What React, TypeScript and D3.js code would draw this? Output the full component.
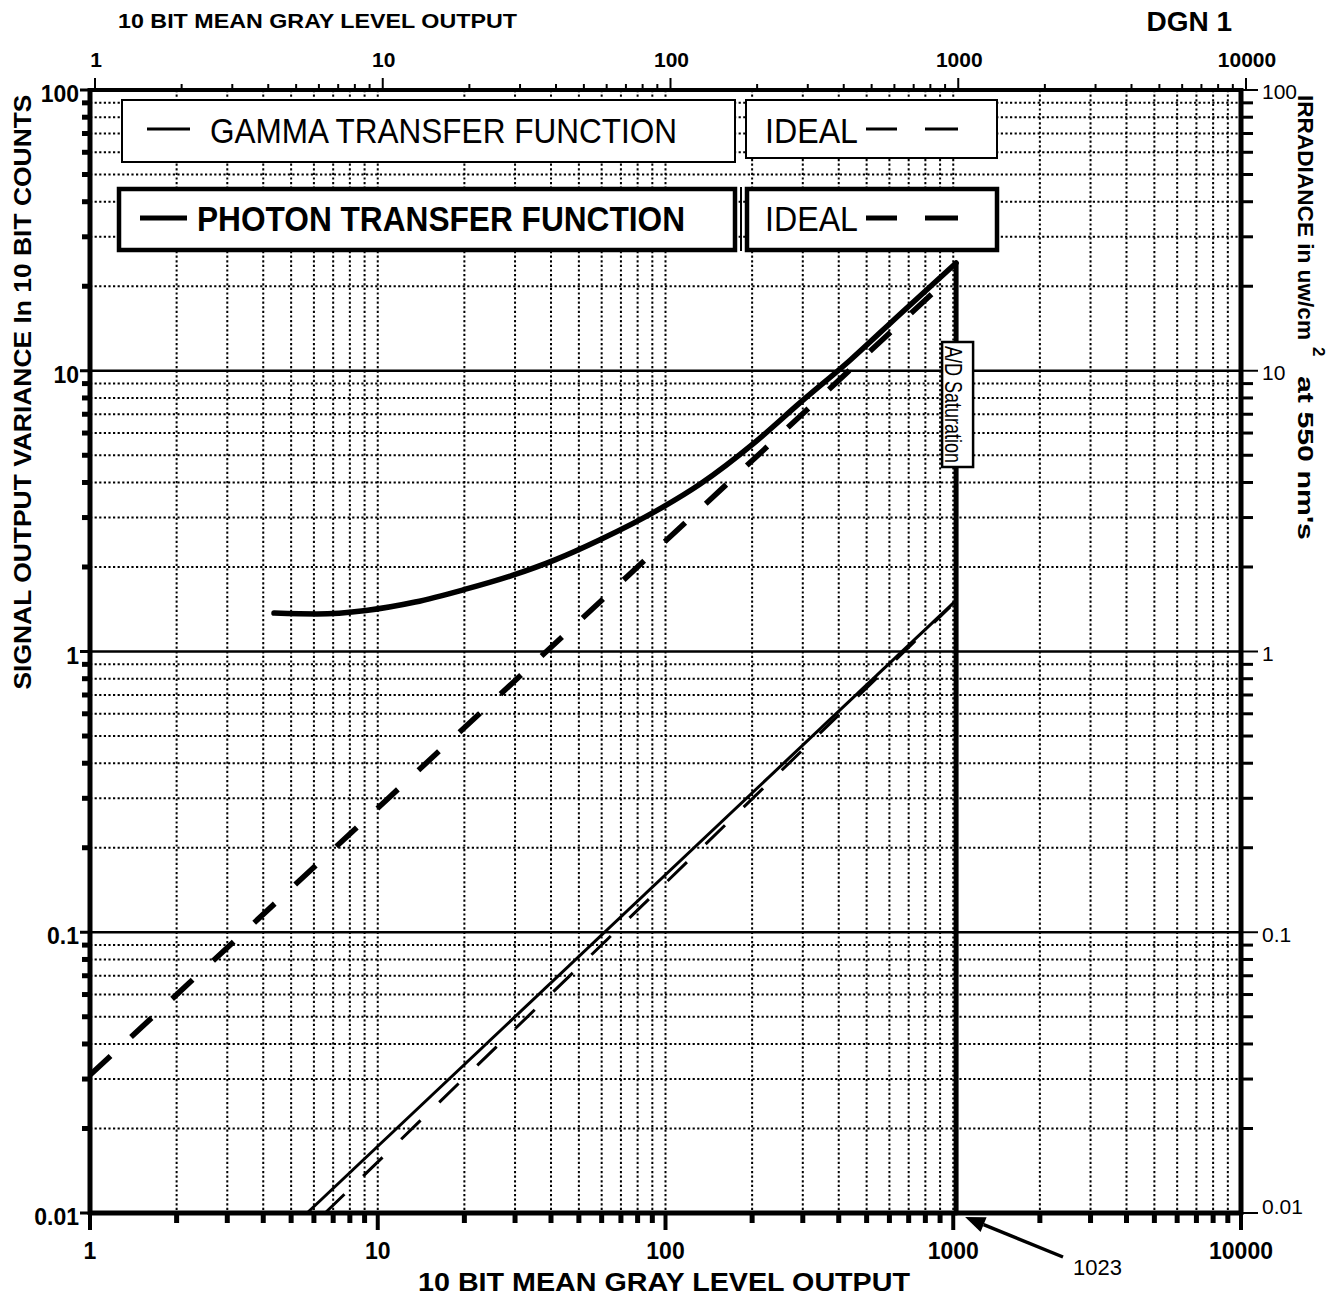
import * as d3 from "d3";

// axis labels
const X_MAJOR = [1, 10, 100, 1000, 10000];
const X_LABELS = ["1", "10", "100", "1000", "10000"];
const Y_MAJOR = [0.01, 0.1, 1, 10, 100];
const Y_LABELS = ["0.01", "0.1", "1", "10", "100"];

// photon transfer function (measured, thick solid)
const PTF_X = [4.36, 6.15, 9.1, 13.5, 19.9, 29.5, 41.3, 59.2, 96.5, 132, 205, 293, 438, 653, 1023];
const PTF_Y = [1.37, 1.36, 1.4, 1.5, 1.66, 1.87, 2.12, 2.5, 3.24, 3.95, 5.57, 7.68, 10.9, 15.9, 24.2];

// photon transfer ideal (thick dashed)
const PTF_IDEAL_X = [1, 900];
const PTF_IDEAL_Y = [0.031, 20];

// gamma transfer function (thin solid) and its ideal (thin dashed)
const GAMMA_X = [5.68, 1023];
const GAMMA_Y = [0.01, 1.52];
const GAMMA_IDEAL_X = [6.56, 975];
const GAMMA_IDEAL_Y = [0.01, 1.44];

// A/D saturation drop
const SATURATION_X = 1023;
const SATURATION_Y = [24.2, 0.01];

const LEGEND_GAMMA = "GAMMA TRANSFER FUNCTION";
const LEGEND_PHOTON = "PHOTON TRANSFER FUNCTION";
const LEGEND_IDEAL = "IDEAL";

const W = 1341;
const H = 1300;
const L = 90;
const R = 1241;
const T = 90;
const B = 1213;
const FONT = "'Liberation Sans', Arial, Helvetica, sans-serif";
const INK = "#000";

const zip = (xs: number[], ys: number[]) =>
  xs.map((v, i) => [v, ys[i]] as [number, number]);

const isMajor = (v: number) =>
  Math.abs(Math.log10(v) - Math.round(Math.log10(v))) < 1e-6;

export default function App() {
  const x = d3.scaleLog().domain([1, 10000]).range([L, R]);
  const y = d3.scaleLog().domain([0.01, 100]).range([B, T]);
  const xt = x.ticks();
  const yt = y.ticks();

  const straight = d3
    .line<[number, number]>()
    .x((d) => x(d[0]))
    .y((d) => y(d[1]));
  const smooth = d3
    .line<[number, number]>()
    .x((d) => x(d[0]))
    .y((d) => y(d[1]))
    .curve(d3.curveMonotoneX);

  const ptfPath = smooth(zip(PTF_X, PTF_Y)) ?? "";
  const satPath = straight(SATURATION_Y.map((v) => [SATURATION_X, v] as [number, number])) ?? "";
  const ptfIdealPath = straight(zip(PTF_IDEAL_X, PTF_IDEAL_Y)) ?? "";
  const gammaPath = straight(zip(GAMMA_X, GAMMA_Y)) ?? "";
  const gammaIdealPath = straight(zip(GAMMA_IDEAL_X, GAMMA_IDEAL_Y)) ?? "";

  const satX = x(SATURATION_X);

  // arrow pointing at 1023 on the bottom axis
  const tip = [satX + 9, B + 4];
  const tail = [1063, 1257];
  const ang = Math.atan2(tip[1] - tail[1], tip[0] - tail[0]);
  const ah = 20;
  const aw = 8;
  const base = [tip[0] - ah * Math.cos(ang), tip[1] - ah * Math.sin(ang)];
  const head = [
    tip,
    [base[0] + aw * Math.sin(ang), base[1] - aw * Math.cos(ang)],
    [base[0] - aw * Math.sin(ang), base[1] + aw * Math.cos(ang)],
  ]
    .map((p) => p.join(","))
    .join(" ");

  return (
    <svg
      width={W}
      height={H}
      style={{ position: "absolute", left: 0, top: 0, background: "#fff" }}
      fontFamily={FONT}
    >
      <rect x={0} y={0} width={W} height={H} fill="#fff" />

      {/* grid: vertical lines all dotted */}
      {xt
        .filter((t) => t > 1 && t < 10000)
        .map((t) => (
          <line
            key={`gx${t}`}
            x1={x(t)}
            x2={x(t)}
            y1={T}
            y2={B}
            stroke={INK}
            strokeWidth={2}
            strokeDasharray="2.2 2.4"
          />
        ))}
      {/* grid: horizontal, decades solid, the rest dotted */}
      {yt
        .filter((t) => t > 0.01 && t < 100)
        .map((t) =>
          isMajor(t) ? (
            <line key={`gy${t}`} x1={L} x2={R} y1={y(t)} y2={y(t)} stroke={INK} strokeWidth={2.4} />
          ) : (
            <line
              key={`gy${t}`}
              x1={L}
              x2={R}
              y1={y(t)}
              y2={y(t)}
              stroke={INK}
              strokeWidth={2}
              strokeDasharray="2.2 2.4"
            />
          ),
        )}

      {/* curves */}
      <path d={ptfIdealPath} fill="none" stroke={INK} strokeWidth={5.5} strokeDasharray="28 28" />
      <path d={gammaIdealPath} fill="none" stroke={INK} strokeWidth={3} strokeDasharray="27 26" />
      <path d={gammaPath} fill="none" stroke={INK} strokeWidth={3} />
      <path d={ptfPath} fill="none" stroke={INK} strokeWidth={5.5} strokeLinejoin="round" strokeLinecap="round" />
      <path d={satPath} fill="none" stroke={INK} strokeWidth={5} strokeLinecap="round" />

      {/* A/D saturation tag */}
      <rect x={satX - 14} y={342} width={31} height={125} fill="#fff" stroke={INK} strokeWidth={2.5} />
      <text
        transform={`translate(${satX - 11},346) rotate(90)`}
        fontSize={24}
        textLength={117}
        lengthAdjust="spacingAndGlyphs"
        fill={INK}
      >
        A/D Saturation
      </text>

      {/* legend */}
      <rect x={122} y={100} width={613} height={62} fill="#fff" stroke={INK} strokeWidth={2} />
      <line x1={147} x2={190} y1={129} y2={129} stroke={INK} strokeWidth={3} />
      <text x={210} y={143} fontSize={35} textLength={467} lengthAdjust="spacingAndGlyphs" fill={INK}>
        {LEGEND_GAMMA}
      </text>

      <rect x={746} y={100} width={251} height={58} fill="#fff" stroke={INK} strokeWidth={2} />
      <text x={765} y={143} fontSize={35} textLength={93} lengthAdjust="spacingAndGlyphs" fill={INK}>
        {LEGEND_IDEAL}
      </text>
      <line x1={866} x2={897} y1={129} y2={129} stroke={INK} strokeWidth={3} />
      <line x1={925} x2={958} y1={129} y2={129} stroke={INK} strokeWidth={3} />

      <rect x={119} y={189} width={616} height={61} fill="#fff" stroke={INK} strokeWidth={4.5} />
      <line x1={140} x2={187} y1={218} y2={218} stroke={INK} strokeWidth={5} />
      <text
        x={197}
        y={231}
        fontSize={35}
        fontWeight="bold"
        textLength={488}
        lengthAdjust="spacingAndGlyphs"
        fill={INK}
      >
        {LEGEND_PHOTON}
      </text>

      <line x1={741} x2={741} y1={187} y2={251} stroke={INK} strokeWidth={2} />
      <rect x={747} y={189} width={250} height={61} fill="#fff" stroke={INK} strokeWidth={4.5} />
      <text x={765} y={231} fontSize={35} textLength={93} lengthAdjust="spacingAndGlyphs" fill={INK}>
        {LEGEND_IDEAL}
      </text>
      <line x1={866} x2={897} y1={218} y2={218} stroke={INK} strokeWidth={5} />
      <line x1={925} x2={958} y1={218} y2={218} stroke={INK} strokeWidth={5} />

      {/* frame */}
      <line x1={L} x2={R} y1={T} y2={T} stroke={INK} strokeWidth={4} />
      <line x1={L} x2={R + 2} y1={B} y2={B} stroke={INK} strokeWidth={5} />
      <line x1={L} x2={L} y1={T - 2} y2={B + 2} stroke={INK} strokeWidth={5} />
      <line x1={R} x2={R} y1={T - 2} y2={B + 2} stroke={INK} strokeWidth={5} />

      {/* bottom ticks */}
      {xt.map((t) => (
        <line
          key={`bt${t}`}
          x1={x(t)}
          x2={x(t)}
          y1={B}
          y2={isMajor(t) ? B + 17 : B + 10}
          stroke={INK}
          strokeWidth={isMajor(t) ? 4 : 5}
        />
      ))}
      {/* top ticks */}
      {xt.map((t) => (
        <line
          key={`tt${t}`}
          x1={x(t) + 5}
          x2={x(t) + 5}
          y1={T}
          y2={isMajor(t) ? T - 12 : T - 6}
          stroke={INK}
          strokeWidth={2}
        />
      ))}
      {/* left ticks */}
      {yt.map((t) => (
        <line
          key={`lt${t}`}
          x1={L}
          x2={isMajor(t) ? L - 10 : L - 8}
          y1={y(t)}
          y2={y(t)}
          stroke={INK}
          strokeWidth={isMajor(t) ? 3 : 5}
        />
      ))}
      {/* right ticks */}
      {yt.map((t) => (
        <line
          key={`rt${t}`}
          x1={R}
          x2={isMajor(t) ? R + 17 : R + 12}
          y1={y(t)}
          y2={y(t)}
          stroke={INK}
          strokeWidth={isMajor(t) ? 2 : 3}
        />
      ))}

      {/* tick labels */}
      {X_MAJOR.map((t, i) => (
        <text
          key={`tl${t}`}
          x={x(t) + 6}
          y={67}
          textAnchor="middle"
          fontSize={21}
          fontWeight="bold"
          fill={INK}
        >
          {X_LABELS[i]}
        </text>
      ))}
      {X_MAJOR.map((t, i) => (
        <text
          key={`bl${t}`}
          x={x(t)}
          y={1259}
          textAnchor="middle"
          fontSize={23}
          fontWeight="bold"
          fill={INK}
        >
          {X_LABELS[i]}
        </text>
      ))}
      {Y_MAJOR.map((t, i) => (
        <text
          key={`ll${t}`}
          x={L - 11}
          y={y(t) + 4}
          dy="0.35em"
          textAnchor="end"
          fontSize={23}
          fontWeight="bold"
          fill={INK}
        >
          {Y_LABELS[i]}
        </text>
      ))}
      {Y_MAJOR.map((t, i) => (
        <text
          key={`rl${t}`}
          x={R + 21}
          y={t === 0.01 ? y(t) - 6 : y(t) + 2}
          dy="0.35em"
          fontSize={21}
          fill={INK}
        >
          {Y_LABELS[i]}
        </text>
      ))}

      {/* 1023 pointer */}
      <line x1={tail[0]} y1={tail[1]} x2={base[0]} y2={base[1]} stroke={INK} strokeWidth={3.5} />
      <polygon points={head} fill={INK} />
      <text x={1073} y={1275} fontSize={22} fill={INK}>
        1023
      </text>

      {/* titles */}
      <text x={118} y={28} fontSize={21} fontWeight="bold" textLength={399} lengthAdjust="spacingAndGlyphs" fill={INK}>
        10 BIT MEAN GRAY LEVEL OUTPUT
      </text>
      <text x={1232} y={31} textAnchor="end" fontSize={28} fontWeight="bold" fill={INK}>
        DGN 1
      </text>
      <text
        x={664}
        y={1291}
        textAnchor="middle"
        fontSize={25}
        fontWeight="bold"
        textLength={492}
        lengthAdjust="spacingAndGlyphs"
        fill={INK}
      >
        10 BIT MEAN GRAY LEVEL OUTPUT
      </text>
      <text
        transform="translate(31,392) rotate(-90)"
        textAnchor="middle"
        fontSize={24}
        fontWeight="bold"
        textLength={595}
        lengthAdjust="spacingAndGlyphs"
        fill={INK}
      >
        SIGNAL OUTPUT VARIANCE In 10 BIT COUNTS
      </text>
      <g transform="translate(1298,95) rotate(90)" fill={INK} fontWeight="bold">
        <text x={0} y={0} fontSize={22} textLength={245} lengthAdjust="spacingAndGlyphs">
          IRRADIANCE in uw/cm
        </text>
        <text x={252} y={-15} fontSize={17}>
          2
        </text>
        <text x={281} y={0} fontSize={22} textLength={164} lengthAdjust="spacingAndGlyphs">
          at 550 nm's
        </text>
      </g>
    </svg>
  );
}
